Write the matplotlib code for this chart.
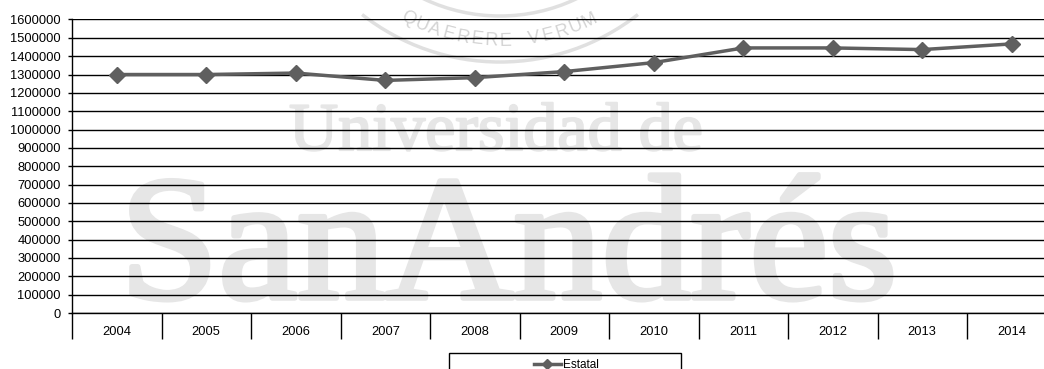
import numpy as np
import matplotlib
matplotlib.use('Agg')
import matplotlib.pyplot as plt
import matplotlib.patheffects as pe
from matplotlib.patches import Arc, Rectangle

plt.rcParams['font.family'] = ['Liberation Sans', 'DejaVu Sans']

years = ['2004', '2005', '2006', '2007', '2008', '2009', '2010', '2011', '2012', '2013', '2014']
estatal = [1300000, 1300000, 1308000, 1268000, 1283000, 1316000, 1365000, 1445000, 1445000, 1436000, 1467000]
yticks = list(range(0, 1600001, 100000))

W, H = 1044, 369
fig = plt.figure(figsize=(W / 100, H / 100), dpi=100)

# watermark layer (pixel coords)
bg = fig.add_axes([0, 0, 1, 1], zorder=0)
bg.set_xlim(0, W)
bg.set_ylim(H, 0)
bg.axis('off')
wm = '#e6e6e6'
bg.text(289, 150, 'Universidad de', family='Liberation Serif', fontsize=49,
        color=wm, ha='left', va='baseline',
        path_effects=[pe.withStroke(linewidth=1.5, foreground=wm)])
bg.text(120, 298, 'SanAndrés', family='Liberation Serif', fontsize=127.5,
        color=wm, ha='left', va='baseline',
        path_effects=[pe.withStroke(linewidth=4, foreground=wm)])
cx, cy = 500, -162
bg.add_patch(Arc((cx, cy), 2 * 224, 2 * 224, theta1=52, theta2=128, color='#e0e0e0', lw=2.5))
bg.add_patch(Arc((cx, cy), 2 * 178, 2 * 178, theta1=40, theta2=140, color='#e0e0e0', lw=2.5))
seal = 'QUAERERE VERUM'
angles = np.linspace(-27, 26, len(seal))
for ch, a in zip(seal, angles):
    r = 203
    px = cx + r * np.sin(np.radians(a))
    py = cy + r * np.cos(np.radians(a))
    bg.text(px, py, ch, fontsize=13, color='#d4d4d4', rotation=a,
            ha='center', va='center', rotation_mode='anchor')

# main chart
ax = fig.add_axes([72 / W, (H - 313) / H, 984.5 / W, 293.5 / H], zorder=1)
ax.patch.set_alpha(0)
x = np.arange(len(years)) + 0.5
ax.plot(x, estatal, color='#5f5f5f', lw=2.5, marker='D', markersize=8.5,
        markerfacecolor='#5f5f5f', markeredgecolor='#5f5f5f', label='Estatal', zorder=3)

ax.set_xlim(0, len(years))
ax.set_ylim(0, 1600000)
ax.set_yticks(yticks)
ax.set_yticklabels([str(v) for v in yticks])
ax.yaxis.grid(True, color='black', lw=1.0)
ax.set_axisbelow(True)

ax.set_xticks(np.arange(len(years) + 1))
ax.set_xticks(x, minor=True)
ax.set_xticklabels(years, minor=True)
ax.tick_params(axis='x', which='major', length=18.5, width=1, color='black',
               direction='out', labelbottom=False)
ax.tick_params(axis='x', which='minor', length=0, pad=9.5, labelsize=9.3)
ax.tick_params(axis='y', length=3, width=1, pad=5, labelsize=9.3)

for s in ['top', 'right']:
    ax.spines[s].set_visible(False)
for s in ['left', 'bottom']:
    ax.spines[s].set_color('black')
    ax.spines[s].set_linewidth(1)

# legend box
fig.patches.append(Rectangle((449 / W, -0.2), 232 / W, 0.2 + 16 / H,
                             transform=fig.transFigure, fill=False,
                             edgecolor='black', lw=1))
fig.legend(loc='upper center', bbox_to_anchor=(566 / W, 15.5 / H), frameon=False,
           fontsize=8.5, handlelength=2.3, markerscale=0.6, borderpad=0,
           handletextpad=0.15)

fig.savefig('out.png', dpi=100)
